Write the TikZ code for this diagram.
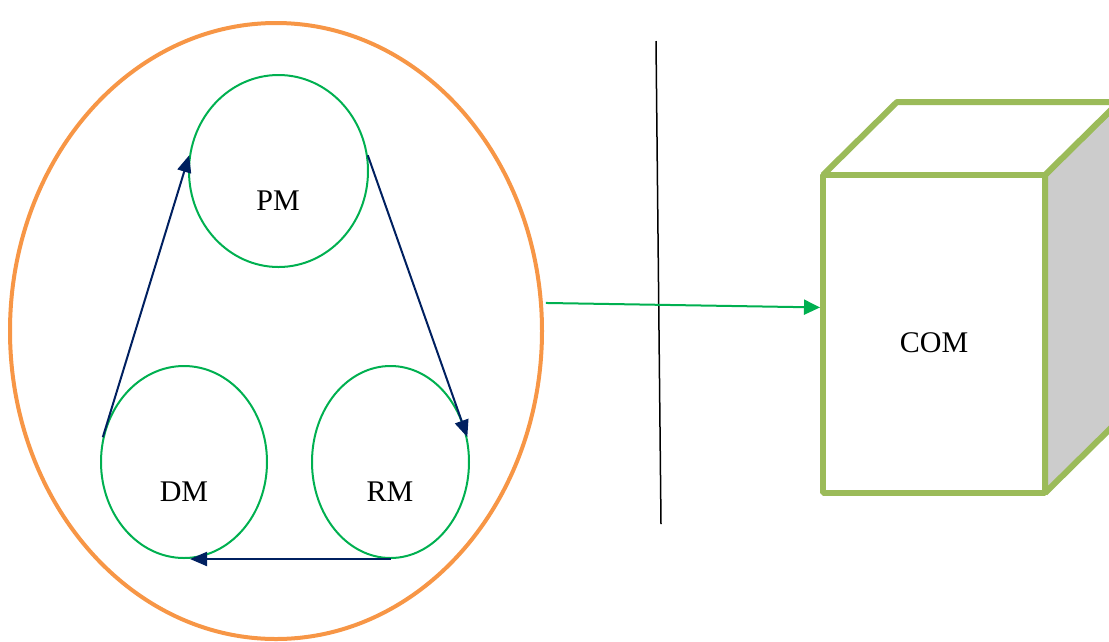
\documentclass[tikz,border=0pt]{standalone}
\usepackage{fontspec}
\setmainfont{Liberation Serif}
\usetikzlibrary{shapes.geometric,arrows.meta,calc}
\definecolor{orangeO}{RGB}{247,150,70}
\definecolor{greenC}{RGB}{0,176,80}
\definecolor{navy}{RGB}{0,32,96}
\definecolor{oliveG}{RGB}{155,187,89}
\definecolor{sideGray}{RGB}{204,204,204}
\tikzset{
  module/.style={draw=greenC, line width=2pt, ellipse, inner sep=0pt},
  lbl/.style={font=\fontsize{30}{36}\selectfont, inner sep=0pt},
  flow/.style={draw=navy, line width=2pt, -{Triangle[length=17pt,width=14pt]}},
  link/.style={draw=greenC, line width=2pt, -{Triangle[length=16pt,width=15pt]}},
  cubeline/.style={draw=oliveG, line width=6pt, line join=bevel},
}
\begin{document}
\begin{tikzpicture}[x=1pt,y=-1pt]
\useasboundingbox (0,0) rectangle (1109,641);
% big container
\node[draw=orangeO, line width=4pt, ellipse, inner sep=0pt, minimum width=532pt, minimum height=616pt] (big) at (276,331) {};
% modules
\node[module, minimum width=179pt, minimum height=192pt] (PM) at (278.5,171) {};
\node[module, minimum width=166pt, minimum height=192pt] (DM) at (184,462) {};
\node[module, minimum width=157pt, minimum height=192pt] (RM) at (390.5,462) {};
\node[lbl] (PMt) at (278,201) {PM};
\node[lbl] (DMt) at (184,492) {DM};
\node[lbl] (RMt) at (390,492) {RM};
% cycle arrows
\draw[flow] (DM.163) -- (PM.170);
\draw[flow] (PM.10) -- (RM.18);
\draw[flow] (RM.south) -- ([xshift=6pt]DM.south);
% separator line
\coordinate (sepTop) at (656,41);
\coordinate (sepBot) at (661,524);
\draw[black, line width=1.5pt] (sepTop) -- (sepBot);
% cube
\coordinate (ftl) at (823,175);
\coordinate (ftr) at (1045,175);
\coordinate (fbr) at (1045,493);
\coordinate (btl) at (897,102);
\coordinate (btr) at (1119,102);
\coordinate (bbr) at (1119,420);
\filldraw[cubeline, fill=sideGray] (ftr) -- (btr) -- (bbr) -- (fbr) -- cycle;
\filldraw[cubeline, fill=white] (ftl) -- (btl) -- (btr) -- (ftr) -- cycle;
\node[cubeline, fill=white, rectangle, inner sep=0pt, minimum width=222pt, minimum height=318pt] (COMbox) at (934,334) {};
\node[lbl] (COM) at (934,343) {COM};
% link arrow
\draw[link] ([xshift=3pt]big.6) -- ($(COMbox.north west)!0.418!(COMbox.south west)$);
\end{tikzpicture}
\end{document}
